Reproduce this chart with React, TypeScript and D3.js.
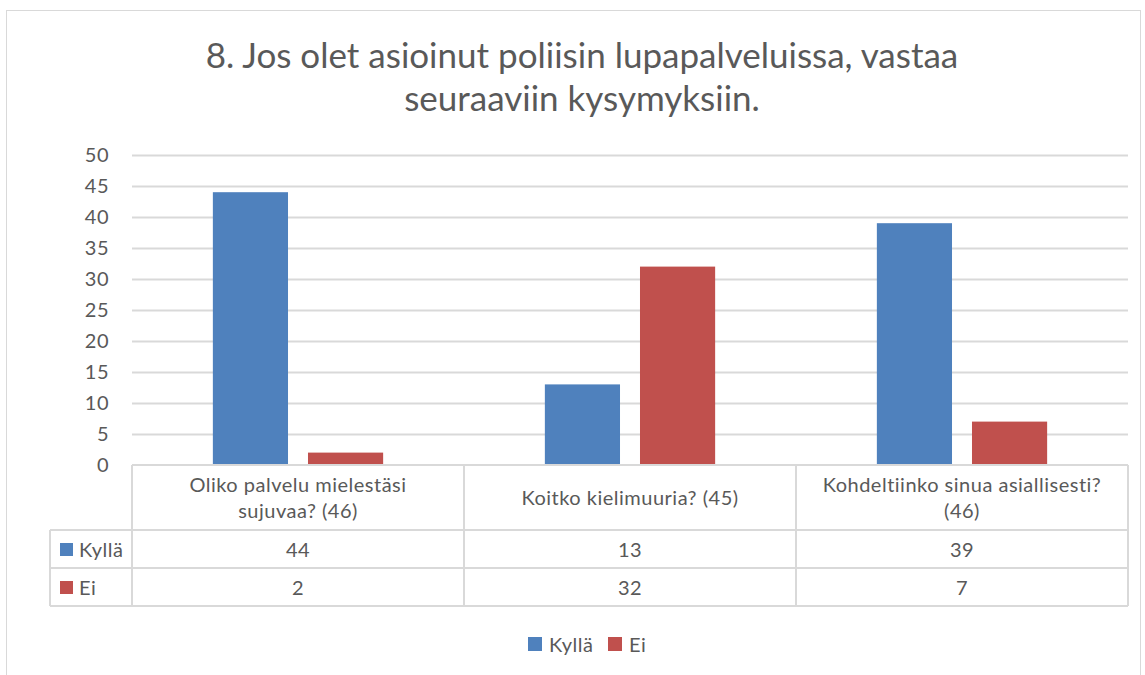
import * as d3 from "d3";
import { useEffect, useRef } from "react";

const titleLines = ["8. Jos olet asioinut poliisin lupapalveluissa, vastaa", "seuraaviin kysymyksiin."];
const categories = [
  ["Oliko palvelu mielestäsi", "sujuvaa? (46)"],
  ["Koitko kielimuuria? (45)"],
  ["Kohdeltiinko sinua asiallisesti?", "(46)"],
];
const seriesNames = ["Kyllä", "Ei"];
const kylla = [44, 13, 39];
const ei = [2, 32, 7];
const colors = ["#4F81BD", "#C0504D"];
const yTicks = [0, 5, 10, 15, 20, 25, 30, 35, 40, 45, 50];

const W = 1145;
const H = 675;
const font = "Lato, 'Open Sans', sans-serif";
const textColor = "#595959";
const gridColor = "#D9D9D9";

function App() {
  const svgRef = useRef(null);

  useEffect(() => {
    const svg = d3.select(svgRef.current);
    svg.selectAll("*").remove();

    const left = 132;
    const right = 1128;
    const top = 155;
    const bottom = 465;
    const tableLeft = 50;
    const headerBottom = 530;
    const rowH = 38;

    const values = [kylla, ei];
    const x0 = d3.scaleBand().domain(d3.range(categories.length).map(String)).range([left, right]);
    const x1 = d3.scaleBand().domain(seriesNames).range([0, x0.bandwidth()]).paddingInner(0.21).paddingOuter(0.85);
    const y = d3.scaleLinear().domain([0, 50]).range([bottom, top]);

    // outer frame
    svg.append("rect").attr("x", 6.5).attr("y", 10.5).attr("width", 1134).attr("height", 680)
      .attr("fill", "white").attr("stroke", gridColor);

    // title
    svg.append("g").selectAll("text").data(titleLines).join("text")
      .attr("x", 582).attr("y", (d, i) => 68 + i * 43)
      .attr("text-anchor", "middle").attr("font-family", font).attr("font-size", 35)
      .attr("fill", textColor).text((d) => d);

    // grid
    svg.append("g").selectAll("line").data(yTicks.filter((t) => t > 0)).join("line")
      .attr("x1", left).attr("x2", right).attr("y1", (d) => y(d) + 0.5).attr("y2", (d) => y(d) + 0.5)
      .attr("stroke", gridColor).attr("stroke-width", 2);

    svg.append("g").selectAll("text").data(yTicks).join("text")
      .attr("x", 109).attr("y", (d) => y(d) + 7).attr("text-anchor", "end")
      .attr("font-family", font).attr("font-size", 20).attr("letter-spacing", 0.5)
      .attr("fill", textColor).text((d) => d);

    // bars
    seriesNames.forEach((s, si) => {
      svg.append("g").selectAll("rect").data(values[si]).join("rect")
        .attr("x", (d, i) => x0(String(i)) + x1(s))
        .attr("y", (d) => y(d)).attr("width", x1.bandwidth())
        .attr("height", (d) => bottom - y(d)).attr("fill", colors[si]);
    });

    // data table
    const tbl = svg.append("g").attr("stroke", gridColor).attr("stroke-width", 2).attr("fill", "none");
    const tableBottom = headerBottom + rowH * 2;
    tbl.append("line").attr("x1", left).attr("x2", right).attr("y1", bottom).attr("y2", bottom);
    [headerBottom, headerBottom + rowH, tableBottom].forEach((yy) => {
      tbl.append("line").attr("x1", tableLeft).attr("x2", right).attr("y1", yy).attr("y2", yy);
    });
    tbl.append("line").attr("x1", tableLeft).attr("x2", tableLeft).attr("y1", headerBottom).attr("y2", tableBottom);
    d3.range(categories.length + 1).forEach((i) => {
      const xx = i < categories.length ? x0(String(i)) : right;
      tbl.append("line").attr("x1", xx).attr("x2", xx).attr("y1", bottom).attr("y2", tableBottom);
    });

    const cells = svg.append("g").attr("font-family", font).attr("font-size", 20).attr("letter-spacing", 0.5)
      .attr("fill", textColor).attr("text-anchor", "middle");
    categories.forEach((lines, i) => {
      const cx = x0(String(i)) + x0.bandwidth() / 2;
      const y0 = lines.length === 1 ? 505 : 492;
      lines.forEach((ln, j) => {
        cells.append("text").attr("x", cx).attr("y", y0 + j * 26).text(ln);
      });
      values.forEach((vals, si) => {
        cells.append("text").attr("x", cx).attr("y", headerBottom + rowH * si + 27).text(vals[i]);
      });
    });
    seriesNames.forEach((s, si) => {
      const ry = headerBottom + rowH * si;
      svg.append("rect").attr("x", 60).attr("y", ry + 13).attr("width", 13).attr("height", 13).attr("fill", colors[si]);
      svg.append("text").attr("x", 79).attr("y", ry + 27).attr("font-family", font).attr("font-size", 20)
        .attr("letter-spacing", 0.5).attr("fill", textColor).text(s);
    });

    // legend
    const legendX = [528, 608];
    seriesNames.forEach((s, si) => {
      svg.append("rect").attr("x", legendX[si]).attr("y", 637).attr("width", 14).attr("height", 14).attr("fill", colors[si]);
      svg.append("text").attr("x", legendX[si] + 21).attr("y", 652).attr("font-family", font).attr("font-size", 20)
        .attr("letter-spacing", 0.5).attr("fill", textColor).text(s);
    });
  }, []);

  return <svg ref={svgRef} width={W} height={H} style={{ display: "block", position: "absolute", left: 0, top: 0 }}></svg>;
}

export default App;
